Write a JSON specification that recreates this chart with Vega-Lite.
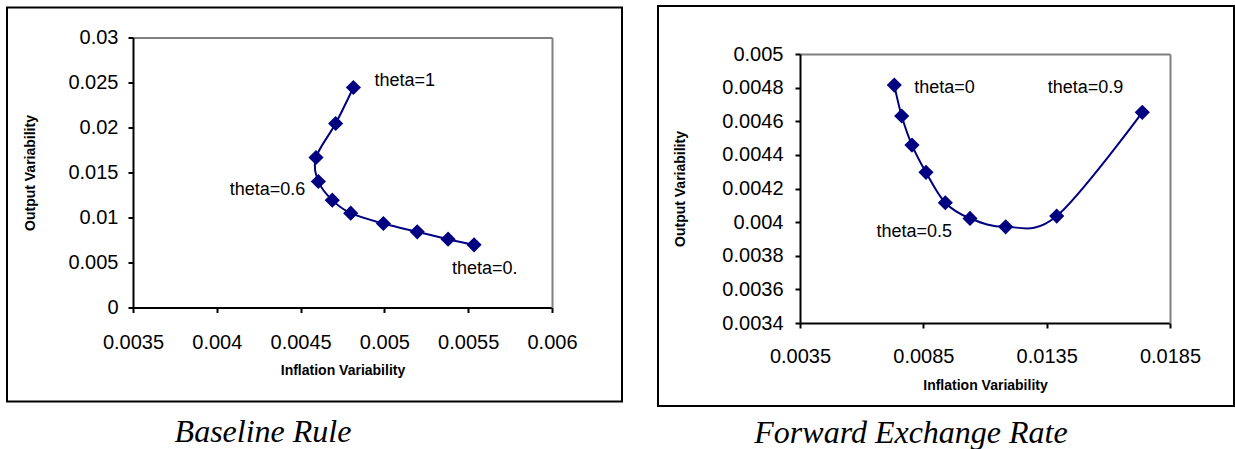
{
  "$schema": "https://vega.github.io/schema/vega-lite/v6.json",
  "padding": {"left": 6, "top": 5, "right": 0, "bottom": 0},
  "background": "white",
  "center": true,
  "spacing": 34,
  "config": {
    "view": {"stroke": "black", "strokeWidth": 2},
    "font": "Liberation Sans",
    "axis": {
      "labelFont": "Liberation Sans", "labelFontSize": 20, "labelColor": "black",
      "titleFont": "Liberation Sans", "titleFontSize": 14, "titleFontWeight": "bold", "titleColor": "black",
      "domainColor": "black", "domainWidth": 2, "tickColor": "black", "tickWidth": 2, "tickSize": 5,
      "grid": false, "labelFlush": false, "labelOverlap": false
    }
  },
  "datasets": {
    "baseline": [
      {"theta": 1.0, "inflation": 0.004815, "output": 0.02444},
      {"theta": 0.9, "inflation": 0.004709, "output": 0.02044},
      {"theta": 0.8, "inflation": 0.004592, "output": 0.01667},
      {"theta": 0.7, "inflation": 0.004606, "output": 0.0140},
      {"theta": 0.6, "inflation": 0.004689, "output": 0.01193},
      {"theta": 0.5, "inflation": 0.004799, "output": 0.01048},
      {"theta": 0.4, "inflation": 0.004994, "output": 0.00933},
      {"theta": 0.3, "inflation": 0.005196, "output": 0.00841},
      {"theta": 0.2, "inflation": 0.00538, "output": 0.00759},
      {"theta": 0.1, "inflation": 0.005535, "output": 0.00696}
    ],
    "forward": [
      {"theta": 0.0, "inflation": 0.007323, "output": 0.004815},
      {"theta": 0.1, "inflation": 0.007623, "output": 0.004631},
      {"theta": 0.2, "inflation": 0.00804, "output": 0.004458},
      {"theta": 0.3, "inflation": 0.008608, "output": 0.004296},
      {"theta": 0.4, "inflation": 0.009391, "output": 0.004115},
      {"theta": 0.5, "inflation": 0.010392, "output": 0.004022},
      {"theta": 0.6, "inflation": 0.011839, "output": 0.003972},
      {"theta": 0.7, "inflation": 0.013907, "output": 0.004036},
      {"theta": 0.9, "inflation": 0.017377, "output": 0.004653}
    ]
  },
  "hconcat": [
    {
      "width": 615,
      "height": 394,
      "title": {"text": "Baseline Rule", "orient": "bottom", "anchor": "start", "align": "center", "dx": 256, "offset": 15, "frame": "group", "font": "Liberation Serif", "fontStyle": "italic", "fontWeight": "normal", "fontSize": 32, "color": "black"},
      "data": {"name": "baseline"},
      "layer": [
        {
          "mark": {"type": "line", "interpolate": "cardinal", "color": "#000080", "strokeWidth": 2},
          "encoding": {
            "x": {"field": "inflation", "type": "quantitative",
              "scale": {"domain": [0.0035, 0.006], "range": [126, 545], "zero": false, "nice": false},
              "axis": {"orient": "bottom", "offset": -94, "values": [0.0035, 0.004, 0.0045, 0.005, 0.0055, 0.006], "format": ".5~g", "title": "Inflation Variability", "labelPadding": 20, "titlePadding": 11}},
            "y": {"field": "output", "type": "quantitative",
              "scale": {"domain": [0, 0.03], "range": [300, 30], "zero": false, "nice": false},
              "axis": {"orient": "left", "offset": -126, "values": [0, 0.005, 0.01, 0.015, 0.02, 0.025, 0.03], "format": ".5~g", "title": "Output Variability", "labelPadding": 10, "titlePadding": 30}},
            "order": {"field": "theta", "type": "quantitative", "sort": "descending"}
          }
        },
        {
          "mark": {"type": "point", "shape": "diamond", "filled": true, "color": "#000080", "size": 230, "opacity": 1},
          "encoding": {
            "x": {"field": "inflation", "type": "quantitative",
              "axis": {"orient": "top", "offset": -30, "labels": false, "ticks": false, "title": null, "domainColor": "#808080"}},
            "y": {"field": "output", "type": "quantitative",
              "axis": {"orient": "right", "offset": -70, "labels": false, "ticks": false, "title": null, "domainColor": "#808080"}}
          }
        },
        {
          "transform": [{"filter": "datum.theta == 1"}],
          "mark": {"type": "text", "text": "theta=1", "align": "left", "baseline": "middle", "dx": 21, "dy": -7, "fontSize": 18, "font": "Liberation Sans", "color": "black"},
          "encoding": {"x": {"field": "inflation", "type": "quantitative", "axis": null}, "y": {"field": "output", "type": "quantitative", "axis": null}}
        },
        {
          "transform": [{"filter": "datum.theta == 0.6"}],
          "mark": {"type": "text", "text": "theta=0.6", "align": "right", "baseline": "middle", "dx": -27, "dy": -10, "fontSize": 18, "font": "Liberation Sans", "color": "black"},
          "encoding": {"x": {"field": "inflation", "type": "quantitative", "axis": null}, "y": {"field": "output", "type": "quantitative", "axis": null}}
        },
        {
          "transform": [{"filter": "datum.theta == 0.1"}],
          "mark": {"type": "text", "text": "theta=0.", "align": "left", "baseline": "middle", "dx": -22, "dy": 24, "fontSize": 18, "font": "Liberation Sans", "color": "black"},
          "encoding": {"x": {"field": "inflation", "type": "quantitative", "axis": null}, "y": {"field": "output", "type": "quantitative", "axis": null}}
        }
      ],
      "resolve": {"axis": {"x": "independent", "y": "independent"}}
    },
    {
      "width": 576,
      "height": 400,
      "title": {"text": "Forward Exchange Rate", "orient": "bottom", "anchor": "start", "align": "center", "dx": 253, "offset": 12, "frame": "group", "font": "Liberation Serif", "fontStyle": "italic", "fontWeight": "normal", "fontSize": 32, "color": "black"},
      "data": {"name": "forward"},
      "layer": [
        {
          "mark": {"type": "line", "interpolate": "cardinal", "color": "#000080", "strokeWidth": 2},
          "encoding": {
            "x": {"field": "inflation", "type": "quantitative",
              "scale": {"domain": [0.0035, 0.0185], "range": [142, 512], "zero": false, "nice": false},
              "axis": {"orient": "bottom", "offset": -83, "values": [0.0035, 0.0085, 0.0135, 0.0185], "format": ".5~g", "title": "Inflation Variability", "labelPadding": 18, "titlePadding": 12}},
            "y": {"field": "output", "type": "quantitative",
              "scale": {"domain": [0.0034, 0.005], "range": [317, 48], "zero": false, "nice": false},
              "axis": {"orient": "left", "offset": -142, "values": [0.0034, 0.0036, 0.0038, 0.004, 0.0042, 0.0044, 0.0046, 0.0048, 0.005], "format": ".5~g", "title": "Output Variability", "labelPadding": 12, "titlePadding": 34}},
            "order": {"field": "theta", "type": "quantitative", "sort": "ascending"}
          }
        },
        {
          "mark": {"type": "point", "shape": "diamond", "filled": true, "color": "#000080", "size": 230, "opacity": 1},
          "encoding": {
            "x": {"field": "inflation", "type": "quantitative",
              "axis": {"orient": "top", "offset": -48, "labels": false, "ticks": false, "title": null, "domainColor": "#808080"}},
            "y": {"field": "output", "type": "quantitative",
              "axis": {"orient": "right", "offset": -64, "labels": false, "ticks": false, "title": null, "domainColor": "#808080"}}
          }
        },
        {
          "transform": [{"filter": "datum.theta == 0"}],
          "mark": {"type": "text", "text": "theta=0", "align": "left", "baseline": "middle", "dx": 20, "dy": 3, "fontSize": 18, "font": "Liberation Sans", "color": "black"},
          "encoding": {"x": {"field": "inflation", "type": "quantitative", "axis": null}, "y": {"field": "output", "type": "quantitative", "axis": null}}
        },
        {
          "transform": [{"filter": "datum.theta == 0.5"}],
          "mark": {"type": "text", "text": "theta=0.5", "align": "right", "baseline": "middle", "dx": -18, "dy": 14, "fontSize": 18, "font": "Liberation Sans", "color": "black"},
          "encoding": {"x": {"field": "inflation", "type": "quantitative", "axis": null}, "y": {"field": "output", "type": "quantitative", "axis": null}}
        },
        {
          "transform": [{"filter": "datum.theta == 0.9"}],
          "mark": {"type": "text", "text": "theta=0.9", "align": "right", "baseline": "middle", "dx": -19, "dy": -24, "fontSize": 18, "font": "Liberation Sans", "color": "black"},
          "encoding": {"x": {"field": "inflation", "type": "quantitative", "axis": null}, "y": {"field": "output", "type": "quantitative", "axis": null}}
        }
      ],
      "resolve": {"axis": {"x": "independent", "y": "independent"}}
    }
  ]
}
